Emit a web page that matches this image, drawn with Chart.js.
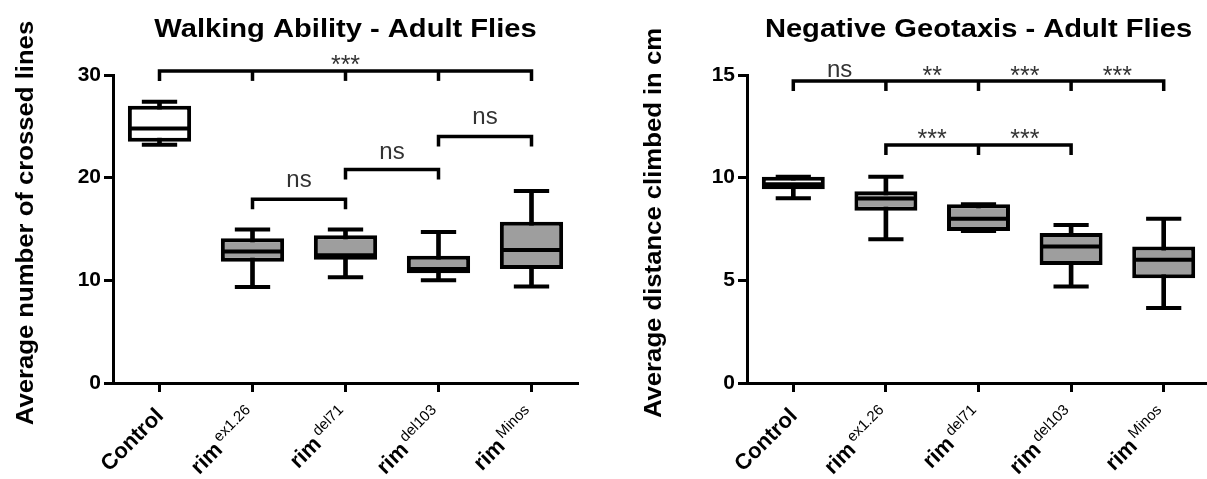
<!DOCTYPE html>
<html>
<head>
<meta charset="utf-8">
<script src="https://cdn.jsdelivr.net/npm/chart.js@4.4.1/dist/chart.umd.min.js"></script>
<style>
  html, body { margin: 0; padding: 0; background: #fff; overflow: hidden; }
  #page { position: relative; width: 1207px; height: 479px; overflow: hidden; }
  canvas { position: absolute; top: 0; }
  #walkChart { left: 0; }
  #climbChart { left: 600px; }
</style>
</head>
<body>
<div id="page">
  <canvas id="walkChart" width="600" height="479"></canvas>
  <canvas id="climbChart" width="612" height="479"></canvas>
</div>
<script>
const FONT = "'Liberation Sans', Arial, sans-serif";

// x categories: base name + superscript
const genotypes = ['Control', 'rim', 'rim', 'rim', 'rim'];
const superscripts = ['', 'ex1.26', 'del71', 'del103', 'Minos'];
const boxFills = ['#ffffff', '#9e9e9e', '#9e9e9e', '#9e9e9e', '#9e9e9e'];

// Walking ability (crossed lines), five-number summaries
const walkMin    = [23.2, 9.35, 10.3, 10.0, 9.4];
const walkQ1     = [23.5, 11.8, 12.0, 10.7, 11.1];
const walkMedian = [24.8, 12.8, 12.45, 11.1, 12.95];
const walkQ3     = [27.0, 14.1, 14.4, 12.4, 15.7];
const walkMax    = [27.4, 14.95, 14.95, 14.7, 18.7];
const walkTicks  = [0, 10, 20, 30];

// Negative geotaxis (cm climbed)
const climbMin    = [9.0, 7.0, 7.4, 4.7, 3.65];
const climbQ1     = [9.43, 8.39, 7.4, 5.75, 5.1];
const climbMedian = [9.68, 8.98, 8.0, 6.65, 6.0];
const climbQ3     = [10.05, 9.34, 8.7, 7.3, 6.65];
const climbMax    = [10.05, 10.05, 8.7, 7.7, 8.0];
const climbTicks  = [0, 5, 10, 15];

// significance brackets: [from, to, y, middle drops]
const walkBrackets = [[0, 4, 30.4, [1, 2, 3]], [1, 2, 17.9, []], [2, 3, 20.8, []], [3, 4, 24.0, []]];
const walkSigLabels = [[2, 30.2, '***'], [1.5, 19.1, 'ns'], [2.5, 21.8, 'ns'], [3.5, 25.2, 'ns']];
const climbBrackets = [[0, 4, 14.71, [1, 2, 3]], [1, 3, 11.59, [2]]];
const climbSigLabels = [[0.5, 14.92, 'ns'], [1.5, 14.56, '**'], [2.5, 14.56, '***'], [3.5, 14.56, '***'],
                        [1.5, 11.47, '***'], [2.5, 11.47, '***']];

const BOX_PCT = 0.68;

function seg(ctx, x1, y1, x2, y2) {
  ctx.beginPath();
  ctx.moveTo(x1, y1);
  ctx.lineTo(x2, y2);
  ctx.stroke();
}

// medians, whisker caps, titles, x labels and brackets
function makeDecor(cfg) {
  return {
    id: 'decor',
    afterDatasetsDraw(chart) {
      const { ctx, scales: { x, y } } = chart;
      const band = x.width / genotypes.length;
      ctx.save();
      ctx.strokeStyle = '#000';
      ctx.lineWidth = 4;
      cfg.median.forEach((m, i) => {
        const cx = x.getPixelForValue(i);
        const half = band * BOX_PCT / 2 - 2;
        const ym = y.getPixelForValue(m);
        seg(ctx, cx - half, ym, cx + half, ym);
        const cap = band * 0.19;
        [cfg.min[i], cfg.max[i]].forEach(v => {
          const yy = y.getPixelForValue(v);
          seg(ctx, cx - cap, yy, cx + cap, yy);
        });
      });
      ctx.restore();
    },
    afterDraw(chart) {
      const { ctx, chartArea, scales: { x, y } } = chart;
      ctx.save();
      ctx.fillStyle = '#000';

      // title
      ctx.save();
      ctx.translate((chartArea.left + chartArea.right) / 2, 37);
      ctx.scale(1.12, 1);
      ctx.font = 'bold 26px ' + FONT;
      ctx.textAlign = 'center';
      ctx.textBaseline = 'alphabetic';
      ctx.fillText(cfg.title, 0, 0);
      ctx.restore();

      // y axis title
      ctx.save();
      ctx.translate(cfg.yTitleX, 223);
      ctx.rotate(-Math.PI / 2);
      ctx.scale(1.07, 1);
      ctx.font = 'bold 24px ' + FONT;
      ctx.textAlign = 'center';
      ctx.textBaseline = 'middle';
      ctx.fillText(cfg.yTitle, 0, 0);
      ctx.restore();

      // rotated category labels with superscripts
      genotypes.forEach((g, i) => {
        const px = x.getPixelForValue(i) + 5;
        ctx.save();
        ctx.translate(px, 417);
        ctx.rotate(-Math.PI / 4);
        ctx.textAlign = 'right';
        ctx.textBaseline = 'alphabetic';
        let right = 0;
        if (superscripts[i]) {
          ctx.font = '15px ' + FONT;
          ctx.fillText(superscripts[i], 0, -9);
          right = -ctx.measureText(superscripts[i]).width - 3;
        }
        ctx.font = 'bold 22px ' + FONT;
        ctx.fillText(g, right, 0);
        ctx.restore();
      });

      // brackets
      ctx.strokeStyle = '#000';
      ctx.lineWidth = 3.5;
      ctx.lineJoin = 'miter';
      const drop = 10;
      cfg.brackets.forEach(([a, b, v, mids]) => {
        const x1 = x.getPixelForValue(a), x2 = x.getPixelForValue(b), yp = y.getPixelForValue(v);
        ctx.beginPath();
        ctx.moveTo(x1, yp + drop);
        ctx.lineTo(x1, yp);
        ctx.lineTo(x2, yp);
        ctx.lineTo(x2, yp + drop);
        ctx.stroke();
        mids.forEach(m => {
          const xm = x.getPixelForValue(m);
          seg(ctx, xm, yp, xm, yp + drop);
        });
      });

      ctx.fillStyle = '#333';
      ctx.textAlign = 'center';
      ctx.textBaseline = 'alphabetic';
      cfg.sigLabels.forEach(([p, v, t]) => {
        ctx.font = (t === 'ns' ? '24px ' : '25px ') + FONT;
        ctx.fillText(t, x.getPixelForValue(p), y.getPixelForValue(v));
      });
      ctx.restore();
    }
  };
}

function buildBoxChart(canvasId, cfg) {
  const labels = genotypes.map((g, i) => g + superscripts[i]);
  new Chart(document.getElementById(canvasId), {
    type: 'bar',
    data: {
      labels: labels,
      datasets: [
        {
          label: 'whiskers',
          data: cfg.min.map((v, i) => [v, cfg.max[i]]),
          backgroundColor: '#000',
          barThickness: 4,
          grouped: false,
          order: 2
        },
        {
          label: 'box',
          data: cfg.q1.map((v, i) => [v, cfg.q3[i]]),
          backgroundColor: boxFills,
          borderColor: '#000',
          borderWidth: 4,
          borderSkipped: false,
          barPercentage: BOX_PCT,
          categoryPercentage: 1,
          grouped: false,
          order: 1
        }
      ]
    },
    options: {
      responsive: false,
      animation: false,
      layout: { padding: { top: 75, left: 0, right: cfg.padRight, bottom: 0 } },
      plugins: {
        legend: { display: false },
        tooltip: { enabled: false }
      },
      scales: {
        x: {
          offset: true,
          border: { color: '#000', width: 3 },
          grid: { offset: false, drawOnChartArea: false, tickLength: 9, tickWidth: 3, tickColor: '#000' },
          ticks: { display: false },
          afterFit: (axis) => { axis.height = 96; }
        },
        y: {
          min: 0,
          max: cfg.ticks[cfg.ticks.length - 1],
          afterBuildTicks: (axis) => { axis.ticks = cfg.ticks.map(v => ({ value: v })); },
          border: { color: '#000', width: 3 },
          grid: { drawOnChartArea: false, tickLength: 9, tickWidth: 3, tickColor: '#000' },
          ticks: { color: '#000', padding: 3, font: { family: FONT, size: 21, weight: 'bold' } },
          afterFit: (axis) => { axis.width = cfg.axisLeft; }
        }
      }
    },
    plugins: [makeDecor(cfg)]
  });
}

buildBoxChart('walkChart', {
  title: 'Walking Ability - Adult Flies',
  yTitle: 'Average number of crossed lines',
  yTitleX: 26,
  axisLeft: 113,
  padRight: 22,
  min: walkMin, q1: walkQ1, median: walkMedian, q3: walkQ3, max: walkMax,
  ticks: walkTicks,
  brackets: walkBrackets,
  sigLabels: walkSigLabels
});

buildBoxChart('climbChart', {
  title: 'Negative Geotaxis - Adult Flies',
  yTitle: 'Average distance climbed in cm',
  yTitleX: 54,
  axisLeft: 147,
  padRight: 2,
  min: climbMin, q1: climbQ1, median: climbMedian, q3: climbQ3, max: climbMax,
  ticks: climbTicks,
  brackets: climbBrackets,
  sigLabels: climbSigLabels
});
</script>
</body>
</html>
